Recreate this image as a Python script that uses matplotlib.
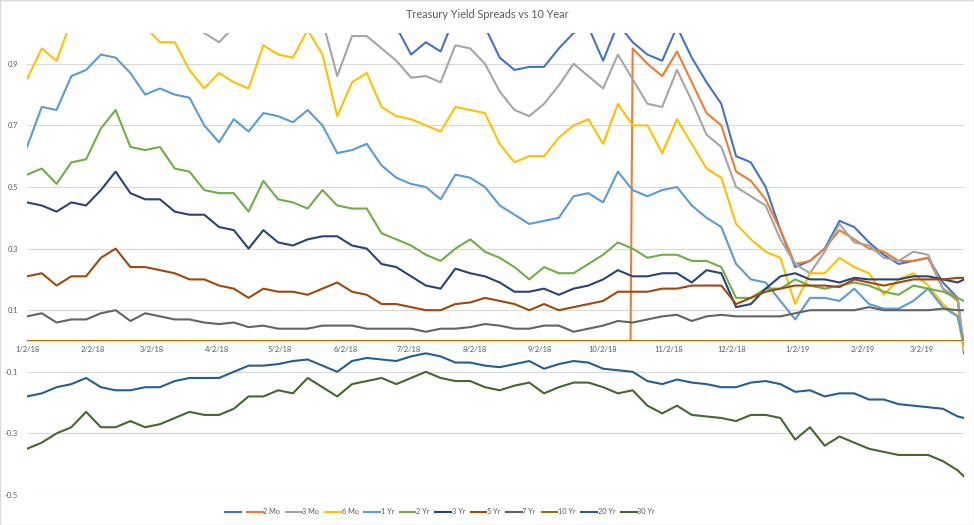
import matplotlib
matplotlib.use("Agg")
import matplotlib.pyplot as plt
from matplotlib.patches import Rectangle
import pandas as pd

plt.rcParams['font.family'] = ['Lato', 'DejaVu Sans']

# weekly samples (spread = 10 Yr minus each tenor)
weeks = list(pd.date_range("2018-01-02", "2019-03-19", freq="7D")) + [pd.Timestamp("2019-03-22")]
two_mo_launch = pd.Timestamp("2018-10-16")

one_mo = [1.17, 1.18, 1.16, 1.19, 1.22, 1.25, 1.20, 1.14, 1.10, 1.15,
          1.15, 1.12, 1.12, 1.05, 1.08, 1.07, 1.12, 1.10, 1.12, 1.18,
          1.14, 1.05, 1.10, 1.12, 1.04, 1.02, 0.93, 0.97, 0.94, 1.06,
          1.04, 1.02, 0.92, 0.88, 0.89, 0.89, 0.95, 1.00, 1.02, 0.91,
          1.03, 0.97, 0.93, 0.91, 1.02, 0.92, 0.84, 0.77, 0.60, 0.58,
          0.50, 0.36, 0.24, 0.26, 0.30, 0.39, 0.37, 0.32, 0.28, 0.25,
          0.26, 0.27, 0.19, 0.14, -0.04]
# 2 Mo only exists from 10/16/18
two_mo = [0.95, 0.90, 0.86, 0.94, 0.84, 0.74, 0.70, 0.55, 0.52, 0.46,
          0.36, 0.25, 0.26, 0.30, 0.36, 0.33, 0.30, 0.29, 0.26, 0.26,
          0.27, 0.17, 0.13, -0.02]
three_mo = [1.02, 1.05, 1.08, 1.13, 1.17, 1.20, 1.15, 1.10, 1.08, 1.08,
            1.06, 1.02, 1.00, 0.97, 1.02, 1.01, 1.06, 1.04, 1.05, 1.10,
            1.04, 0.86, 0.99, 0.99, 0.95, 0.91, 0.855, 0.86, 0.84, 0.96,
            0.95, 0.90, 0.81, 0.75, 0.73, 0.77, 0.83, 0.90, 0.86, 0.82,
            0.93, 0.85, 0.77, 0.76, 0.88, 0.78, 0.67, 0.63, 0.50, 0.47,
            0.44, 0.33, 0.25, 0.22, 0.29, 0.38, 0.32, 0.31, 0.27, 0.26,
            0.29, 0.28, 0.17, 0.14, -0.02]
six_mo = [0.85, 0.95, 0.91, 1.04, 1.06, 1.05, 1.08, 1.04, 1.02, 0.97,
          0.97, 0.88, 0.82, 0.87, 0.84, 0.82, 0.96, 0.93, 0.92, 1.01,
          0.93, 0.73, 0.84, 0.87, 0.76, 0.73, 0.72, 0.70, 0.68, 0.76,
          0.75, 0.74, 0.64, 0.58, 0.60, 0.60, 0.66, 0.70, 0.72, 0.64,
          0.77, 0.70, 0.70, 0.61, 0.72, 0.64, 0.56, 0.53, 0.38, 0.33,
          0.29, 0.27, 0.12, 0.22, 0.22, 0.27, 0.24, 0.22, 0.15, 0.20,
          0.22, 0.18, 0.12, 0.08, -0.03]
one_yr = [0.63, 0.76, 0.75, 0.86, 0.88, 0.93, 0.92, 0.87, 0.80, 0.82,
          0.80, 0.79, 0.70, 0.645, 0.72, 0.68, 0.74, 0.73, 0.71, 0.75,
          0.70, 0.61, 0.62, 0.64, 0.57, 0.53, 0.51, 0.50, 0.46, 0.54,
          0.53, 0.50, 0.44, 0.41, 0.38, 0.39, 0.40, 0.47, 0.48, 0.45,
          0.55, 0.49, 0.47, 0.49, 0.50, 0.44, 0.40, 0.37, 0.25, 0.20,
          0.19, 0.13, 0.07, 0.14, 0.14, 0.13, 0.17, 0.12, 0.105, 0.105,
          0.13, 0.17, 0.11, 0.08, -0.01]
two_yr = [0.54, 0.56, 0.51, 0.58, 0.59, 0.69, 0.75, 0.63, 0.62, 0.63,
          0.56, 0.55, 0.49, 0.48, 0.48, 0.42, 0.52, 0.46, 0.45, 0.43,
          0.49, 0.44, 0.43, 0.43, 0.35, 0.33, 0.31, 0.28, 0.26, 0.30,
          0.33, 0.29, 0.27, 0.24, 0.20, 0.24, 0.22, 0.22, 0.25, 0.28,
          0.32, 0.30, 0.27, 0.28, 0.28, 0.26, 0.26, 0.24, 0.14, 0.14,
          0.17, 0.17, 0.20, 0.18, 0.17, 0.18, 0.19, 0.18, 0.16, 0.15,
          0.18, 0.17, 0.16, 0.14, 0.13]
three_yr = [0.45, 0.44, 0.42, 0.45, 0.44, 0.49, 0.55, 0.48, 0.46, 0.46,
            0.42, 0.41, 0.41, 0.37, 0.36, 0.30, 0.36, 0.32, 0.31, 0.33,
            0.34, 0.34, 0.31, 0.30, 0.25, 0.24, 0.21, 0.18, 0.17, 0.235,
            0.22, 0.21, 0.19, 0.16, 0.16, 0.17, 0.15, 0.17, 0.18, 0.20,
            0.23, 0.21, 0.21, 0.22, 0.22, 0.19, 0.23, 0.22, 0.11, 0.12,
            0.17, 0.21, 0.22, 0.20, 0.20, 0.19, 0.205, 0.20, 0.20, 0.20,
            0.21, 0.21, 0.20, 0.19, 0.20]
five_yr = [0.21, 0.22, 0.18, 0.21, 0.21, 0.27, 0.30, 0.24, 0.24, 0.23,
           0.22, 0.20, 0.20, 0.18, 0.17, 0.14, 0.17, 0.16, 0.16, 0.15,
           0.17, 0.19, 0.16, 0.15, 0.12, 0.12, 0.11, 0.10, 0.10, 0.12,
           0.125, 0.14, 0.13, 0.12, 0.10, 0.12, 0.10, 0.11, 0.12, 0.13,
           0.16, 0.16, 0.16, 0.17, 0.17, 0.18, 0.18, 0.18, 0.12, 0.14,
           0.16, 0.17, 0.18, 0.18, 0.18, 0.175, 0.20, 0.19, 0.18, 0.19,
           0.20, 0.20, 0.20, 0.205, 0.205]
seven_yr = [0.08, 0.09, 0.06, 0.07, 0.07, 0.09, 0.10, 0.065, 0.09, 0.08,
            0.07, 0.07, 0.06, 0.055, 0.06, 0.045, 0.05, 0.04, 0.04, 0.04,
            0.05, 0.05, 0.05, 0.04, 0.04, 0.04, 0.04, 0.03, 0.04, 0.04,
            0.045, 0.055, 0.05, 0.04, 0.04, 0.05, 0.05, 0.03, 0.04, 0.05,
            0.065, 0.06, 0.07, 0.08, 0.085, 0.065, 0.08, 0.085, 0.08, 0.08,
            0.08, 0.08, 0.09, 0.10, 0.10, 0.10, 0.10, 0.11, 0.10, 0.10,
            0.10, 0.10, 0.105, 0.10, 0.10]
ten_yr = [0.0] * len(weeks)
twenty_yr = [-0.18, -0.17, -0.15, -0.14, -0.12, -0.15, -0.16, -0.16, -0.15, -0.15,
             -0.13, -0.12, -0.12, -0.12, -0.10, -0.08, -0.08, -0.075, -0.065, -0.06,
             -0.08, -0.10, -0.065, -0.055, -0.06, -0.065, -0.05, -0.04, -0.05, -0.07,
             -0.07, -0.08, -0.085, -0.075, -0.065, -0.09, -0.075, -0.065, -0.07, -0.09,
             -0.095, -0.10, -0.13, -0.14, -0.125, -0.135, -0.14, -0.15, -0.15, -0.135,
             -0.13, -0.14, -0.165, -0.16, -0.18, -0.17, -0.17, -0.19, -0.19, -0.205,
             -0.21, -0.215, -0.22, -0.245, -0.25]
thirty_yr = [-0.35, -0.33, -0.30, -0.28, -0.23, -0.28, -0.28, -0.26, -0.28, -0.27,
             -0.25, -0.23, -0.24, -0.24, -0.22, -0.18, -0.18, -0.16, -0.17, -0.12,
             -0.15, -0.18, -0.14, -0.13, -0.12, -0.14, -0.12, -0.10, -0.12, -0.13,
             -0.13, -0.15, -0.16, -0.145, -0.135, -0.17, -0.15, -0.135, -0.135, -0.15,
             -0.17, -0.16, -0.21, -0.235, -0.21, -0.24, -0.245, -0.25, -0.26, -0.24,
             -0.24, -0.25, -0.32, -0.28, -0.34, -0.31, -0.33, -0.35, -0.36, -0.37,
             -0.37, -0.37, -0.39, -0.42, -0.44]

labels = ["", "2 Mo", "3 Mo", "6 Mo", "1 Yr", "2 Yr", "3 Yr", "5 Yr", "7 Yr", "10 Yr", "20 Yr", "30 Yr"]
colors = ["#4472C4", "#ED7D31", "#A5A5A5", "#FFC000", "#5B9BD5", "#70AD47",
          "#264478", "#9E480E", "#636363", "#997300", "#255E91", "#43682B"]
yticks = [-0.5, -0.3, -0.1, 0.1, 0.3, 0.5, 0.7, 0.9]
xticks = pd.date_range("2018-01-02", "2019-03-02", freq=pd.DateOffset(months=1))

# 2 Mo sits at zero until the bill was introduced
i0 = weeks.index(two_mo_launch)
x_2mo = weeks[:i0] + [two_mo_launch - pd.Timedelta(days=1)] + weeks[i0:]
y_2mo = [0.0] * (i0 + 1) + two_mo

series = [(weeks, one_mo), (x_2mo, y_2mo), (weeks, three_mo), (weeks, six_mo),
          (weeks, one_yr), (weeks, two_yr), (weeks, three_yr), (weeks, five_yr),
          (weeks, seven_yr), (weeks, ten_yr), (weeks, twenty_yr), (weeks, thirty_yr)]

fig = plt.figure(figsize=(9.74, 5.25), dpi=100)
ax = fig.add_axes([27 / 974, 30 / 525, 937 / 974, 462 / 525])

handles = []
for (x, y), lab, c in zip(series, labels, colors):
    ln, = ax.plot(x, y, color=c, lw=1.5, solid_joinstyle='round')
    handles.append(ln)

ax.set_ylim(-0.5, 1.0)
ax.set_xlim(weeks[0], weeks[-1])
ax.set_yticks(yticks)
ax.set_yticklabels([f"{v:g}" for v in yticks])
ax.set_xticks(xticks)
ax.set_xticklabels([f"{d.month}/{d.day}/{d:%y}" for d in xticks])
ax.grid(axis='y', color='#D9D9D9', lw=0.8)
ax.set_axisbelow(True)
for s in ['top', 'right', 'left']:
    ax.spines[s].set_visible(False)
ax.spines['bottom'].set_position(('data', 0))
ax.spines['bottom'].set_color('#D9D9D9')
ax.tick_params(axis='y', length=0, pad=6.5, labelsize=5.4, labelcolor='#595959')
ax.tick_params(axis='x', length=0, pad=3.5, labelsize=5.4, labelcolor='#595959')

fig.text(0.5, 1 - 14 / 525, "Treasury Yield Spreads vs 10 Year", ha='center', va='center',
         fontsize=7.8, color='#595959')

fig.legend(handles, labels, loc='center', bbox_to_anchor=(440 / 974, 1 - 512 / 525),
           ncol=12, frameon=False, fontsize=5.3, handlelength=2.1, handletextpad=0.1,
           columnspacing=0.8, labelcolor='#595959')

fig.patches.append(Rectangle((0, 0), 1, 1, transform=fig.transFigure, fill=False,
                             edgecolor='#D9D9D9', lw=1))

fig.savefig("out.png", dpi=100)
